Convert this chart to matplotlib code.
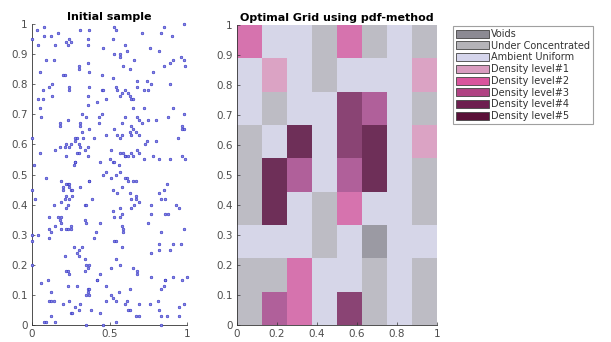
"""Initial sample scatter next to the optimal grid (pdf-method) map."""
import matplotlib
matplotlib.use("Agg")
import matplotlib.pyplot as plt
import matplotlib.patches as patches
from matplotlib.colors import ListedColormap, BoundaryNorm
import numpy as np

# sample points
sample_x = [
    0.00, 0.03, 0.08, 0.08, 0.04, 0.12, 0.17, 0.15, 0.22, 0.23, 0.24, 0.25, 0.31, 0.37,
    0.36, 0.36, 0.53, 0.54, 0.52, 0.46, 0.71, 0.83, 0.85, 0.90, 0.98, 0.53, 0.57, 0.57,
    0.60, 0.61, 0.76, 0.82, 0.66, 0.59, 0.63, 0.09, 0.14, 0.36, 0.30, 0.30, 0.37, 0.05,
    0.78, 0.85, 0.89, 0.91, 0.96, 0.98, 0.99, 0.20, 0.21, 0.45, 0.52, 0.68, 0.74, 0.77,
    0.89, 0.07, 0.04, 0.07, 0.11, 0.13, 0.13, 0.24, 0.24, 0.37, 0.45, 0.46, 0.48, 0.54,
    0.55, 0.57, 0.58, 0.60, 0.62, 0.63, 0.64, 0.65, 0.68, 0.72, 0.75, 0.05, 0.06, 0.36,
    0.36, 0.42, 0.45, 0.32, 0.35, 0.65, 0.72, 0.91, 0.98, 0.18, 0.18, 0.23, 0.31, 0.31,
    0.43, 0.43, 0.53, 0.58, 0.60, 0.64, 0.65, 0.68, 0.69, 0.71, 0.75, 0.80, 0.88, 0.97,
    0.97, 0.98, 0.32, 0.33, 0.37, 0.48, 0.55, 0.57, 0.58, 0.63, 0.64, 0.67, 0.69, 0.28,
    0.29, 0.28, 0.30, 0.22, 0.24, 0.25, 0.21, 0.18, 0.29, 0.30, 0.31, 0.34, 0.40, 0.36,
    0.51, 0.57, 0.59, 0.60, 0.62, 0.64, 0.65, 0.73, 0.74, 0.80, 0.00, 0.05, 0.15, 0.22,
    0.28, 0.27, 0.28, 0.36, 0.44, 0.50, 0.52, 0.53, 0.56, 0.60, 0.68, 0.69, 0.72, 0.78,
    0.82, 0.89, 0.94, 0.97, 0.99, 0.01,
    0.00, 0.02, 0.09, 0.19, 0.20, 0.20, 0.22, 0.23, 0.24, 0.24, 0.25, 0.26, 0.22, 0.24,
    0.26, 0.19, 0.21, 0.31, 0.37, 0.37, 0.39, 0.14, 0.22, 0.23, 0.34, 0.35, 0.34, 0.35,
    0.11, 0.17, 0.19, 0.18, 0.19, 0.15, 0.19, 0.22, 0.23, 0.25, 0.25, 0.11, 0.12, 0.04,
    0.00, 0.00, 0.11, 0.41, 0.40, 0.44, 0.46, 0.48, 0.51, 0.54, 0.57, 0.58, 0.60, 0.61,
    0.62, 0.65, 0.67, 0.55, 0.52, 0.63, 0.64, 0.67, 0.67, 0.66, 0.52, 0.53, 0.57, 0.58,
    0.57, 0.64, 0.69, 0.77, 0.82, 0.83, 0.85, 0.87, 0.86, 0.77, 0.75, 0.86, 0.88, 0.93,
    0.95, 0.58, 0.59, 0.59, 0.58, 0.53, 0.54, 0.83, 0.82, 0.82, 0.77, 0.89, 0.91, 0.96,
    0.98, 0.27, 0.30, 0.32, 0.29, 0.30, 0.21, 0.34, 0.54, 0.57, 0.35, 0.36, 0.37, 0.34,
    0.22, 0.23, 0.24, 0.00, 0.44, 0.42, 0.42, 0.51, 0.65, 0.68, 0.68, 0.77, 0.91, 1.00,
    0.86, 0.97, 0.06, 0.10, 0.12, 0.23, 0.29, 0.36, 0.37, 0.36, 0.48, 0.56, 0.63, 0.85,
    0.86, 0.83, 0.11, 0.12, 0.14, 0.20, 0.24, 0.28, 0.30, 0.31, 0.25, 0.26, 0.12, 0.35,
    0.37, 0.38, 0.44, 0.48, 0.51, 0.52, 0.54, 0.60, 0.61, 0.62, 0.63, 0.69, 0.67, 0.69,
    0.76, 0.81, 0.82, 0.83, 0.87, 0.95, 0.95, 0.98, 0.08, 0.09, 0.15, 0.35, 0.46, 0.54,
    0.83,
]
sample_y = [
    0.95, 0.98, 0.99, 0.96, 0.93, 0.96, 0.97, 0.93, 0.94, 0.93, 0.95, 0.94, 0.98, 0.98,
    0.95, 0.93, 0.99, 0.98, 0.95, 0.92, 0.97, 0.97, 0.99, 0.96, 1.00, 0.90, 0.90, 0.89,
    0.93, 0.91, 0.92, 0.91, 0.88, 0.86, 0.85, 0.88, 0.88, 0.87, 0.86, 0.85, 0.84, 0.84,
    0.84, 0.86, 0.87, 0.88, 0.89, 0.88, 0.86, 0.83, 0.83, 0.83, 0.82, 0.81, 0.81, 0.80,
    0.80, 0.78, 0.75, 0.75, 0.79, 0.80, 0.76, 0.79, 0.78, 0.79, 0.78, 0.78, 0.75, 0.79,
    0.78, 0.76, 0.77, 0.78, 0.77, 0.76, 0.75, 0.75, 0.79, 0.78, 0.78, 0.72, 0.69, 0.73,
    0.76, 0.74, 0.70, 0.70, 0.69, 0.72, 0.72, 0.72, 0.70, 0.67, 0.66, 0.68, 0.67, 0.66,
    0.69, 0.67, 0.65, 0.67, 0.69, 0.66, 0.65, 0.69, 0.68, 0.67, 0.68, 0.68, 0.69, 0.66,
    0.65, 0.65, 0.64, 0.62, 0.65, 0.63, 0.63, 0.62, 0.63, 0.64, 0.63, 0.64, 0.63, 0.62,
    0.62, 0.61, 0.60, 0.60, 0.59, 0.60, 0.59, 0.59, 0.57, 0.57, 0.59, 0.58, 0.62, 0.59,
    0.58, 0.57, 0.57, 0.56, 0.56, 0.57, 0.56, 0.60, 0.61, 0.61, 0.62, 0.57, 0.58, 0.56,
    0.54, 0.53, 0.54, 0.56, 0.54, 0.55, 0.54, 0.54, 0.53, 0.56, 0.58, 0.57, 0.55, 0.56,
    0.55, 0.55, 0.62, 0.56, 0.55, 0.53,
    0.45, 0.42, 0.49, 0.48, 0.46, 0.45, 0.47, 0.47, 0.47, 0.46, 0.45, 0.45, 0.43, 0.42,
    0.43, 0.41, 0.42, 0.46, 0.48, 0.48, 0.42, 0.40, 0.39, 0.40, 0.40, 0.40, 0.35, 0.34,
    0.36, 0.36, 0.36, 0.35, 0.34, 0.33, 0.32, 0.32, 0.32, 0.33, 0.32, 0.32, 0.31, 0.30,
    0.30, 0.28, 0.29, 0.31, 0.29, 0.34, 0.50, 0.51, 0.49, 0.50, 0.51, 0.46, 0.49, 0.49,
    0.48, 0.48, 0.48, 0.44, 0.45, 0.44, 0.42, 0.42, 0.43, 0.40, 0.38, 0.36, 0.39, 0.37,
    0.36, 0.39, 0.41, 0.40, 0.44, 0.42, 0.45, 0.47, 0.42, 0.37, 0.34, 0.37, 0.37, 0.40,
    0.39, 0.33, 0.32, 0.31, 0.26, 0.28, 0.28, 0.31, 0.27, 0.25, 0.24, 0.25, 0.27, 0.27,
    0.32, 0.26, 0.25, 0.26, 0.24, 0.23, 0.23, 0.22, 0.22, 0.20, 0.20, 0.19, 0.20, 0.18,
    0.18, 0.18, 0.17, 0.20, 0.17, 0.15, 0.15, 0.19, 0.19, 0.18, 0.17, 0.16, 0.16, 0.16,
    0.15, 0.15, 0.14, 0.15, 0.11, 0.13, 0.13, 0.12, 0.12, 0.11, 0.13, 0.11, 0.12, 0.13,
    0.15, 0.12, 0.08, 0.08, 0.08, 0.07, 0.08, 0.06, 0.05, 0.07, 0.04, 0.04, 0.03, 0.10,
    0.10, 0.05, 0.04, 0.08, 0.10, 0.09, 0.08, 0.07, 0.08, 0.05, 0.05, 0.07, 0.03, 0.03,
    0.07, 0.08, 0.05, 0.03, 0.03, 0.06, 0.03, 0.07, 0.01, 0.01, 0.01, 0.00, 0.00, 0.01,
    0.00,
]

# grid classes, top row first (0 voids .. 7 density level #5)
grid_classes = [
    [4, 2, 2, 1, 4, 1, 2, 1],
    [2, 3, 2, 1, 2, 2, 2, 3],
    [2, 1, 2, 2, 6, 5, 2, 1],
    [1, 2, 7, 2, 6, 7, 2, 3],
    [1, 7, 5, 2, 5, 7, 2, 1],
    [1, 7, 2, 1, 4, 2, 2, 1],
    [2, 2, 2, 1, 2, 0, 2, 2],
    [1, 1, 4, 2, 2, 1, 2, 1],
    [1, 5, 4, 2, 6, 1, 2, 1],
]
class_names = ["Voids", "Under Concentrated", "Ambient Uniform",
               "Density level#1", "Density level#2", "Density level#3",
               "Density level#4", "Density level#5"]
cell_colors = ["#9b9aa3", "#bdbcc4", "#d6d6e8", "#dba3c4",
               "#d673ae", "#b0609a", "#8a4474", "#6e2f58"]
legend_colors = ["#8c8a93", "#b4b3b8", "#d5d5ec", "#d99cc0",
                 "#d9559d", "#b04383", "#6e1f50", "#5a1038"]

left_yticks = [0, 0.1, 0.2, 0.3, 0.4, 0.5, 0.6, 0.7, 0.8, 0.9, 1]
left_ylabels = ["0", "0.1", "0.2", "0.3", "0.4", "0.5", "0.6", "0.7", "0.8", "0.9", "1"]
left_xticks = [0, 0.5, 1]
left_xlabels = ["0", "0.5", "1"]
right_xticks = [0, 0.2, 0.4, 0.6, 0.8, 1]
right_xlabels = ["0", "0.2", "0.4", "0.6", "0.8", "1"]

TICK_COLOR = "#4d4d4d"


def style_axes(ax):
    for side in ("top", "right"):
        ax.spines[side].set_visible(False)
    for side in ("left", "bottom"):
        ax.spines[side].set_color("#333333")
        ax.spines[side].set_linewidth(0.6)
    ax.tick_params(direction="in", length=2.5, width=0.5, labelsize=7.5,
                   labelcolor=TICK_COLOR, color="#333333", pad=3)


fig = plt.figure(figsize=(6.11, 3.42), dpi=100)

# left: initial sample
ax1 = fig.add_axes([0.0524, 0.0497, 0.2537, 0.880])
ax1.scatter(sample_x, sample_y, s=3.5, facecolor="#8a8ae4", edgecolor="#3333c4",
            linewidth=0.45, clip_on=False, zorder=3)
ax1.set_xlim(0, 1)
ax1.set_ylim(0, 1)
ax1.set_xticks(left_xticks, left_xlabels)
ax1.set_yticks(left_yticks, left_ylabels)
style_axes(ax1)
ax1.set_title("Initial sample", fontsize=8, fontweight="bold", pad=3)

# right: optimal grid
ax2 = fig.add_axes([0.3879, 0.0497, 0.3273, 0.877])
grid = np.array(grid_classes)[::-1]
n_rows, n_cols = grid.shape
cmap = ListedColormap(cell_colors)
norm = BoundaryNorm(np.arange(len(cell_colors) + 1) - 0.5, len(cell_colors))
ax2.pcolormesh(np.linspace(0, 1, n_cols + 1), np.linspace(0, 1, n_rows + 1), grid,
               cmap=cmap, norm=norm, shading="flat")
ax2.set_xlim(0, 1)
ax2.set_ylim(0, 1)
ax2.set_xticks(right_xticks, right_xlabels)
ax2.set_yticks(left_yticks, left_ylabels)
style_axes(ax2)
ax2.set_title("Optimal Grid using pdf-method", fontsize=8, fontweight="bold", pad=3)

handles = [patches.Patch(facecolor=c, edgecolor="#444444", linewidth=0.6, label=n)
           for c, n in zip(legend_colors, class_names)]
leg = fig.legend(handles=handles, loc="upper left", bbox_to_anchor=(0.741, 0.924),
                 fontsize=7, frameon=True, fancybox=False, handlelength=3.4,
                 handleheight=0.9, handletextpad=0.2, labelspacing=0.18,
                 borderpad=0.3, borderaxespad=0.0)
leg.get_frame().set_edgecolor("#888888")
leg.get_frame().set_linewidth(0.8)
for t in leg.get_texts():
    t.set_color("#333333")

fig.savefig("out.png", dpi=100)
